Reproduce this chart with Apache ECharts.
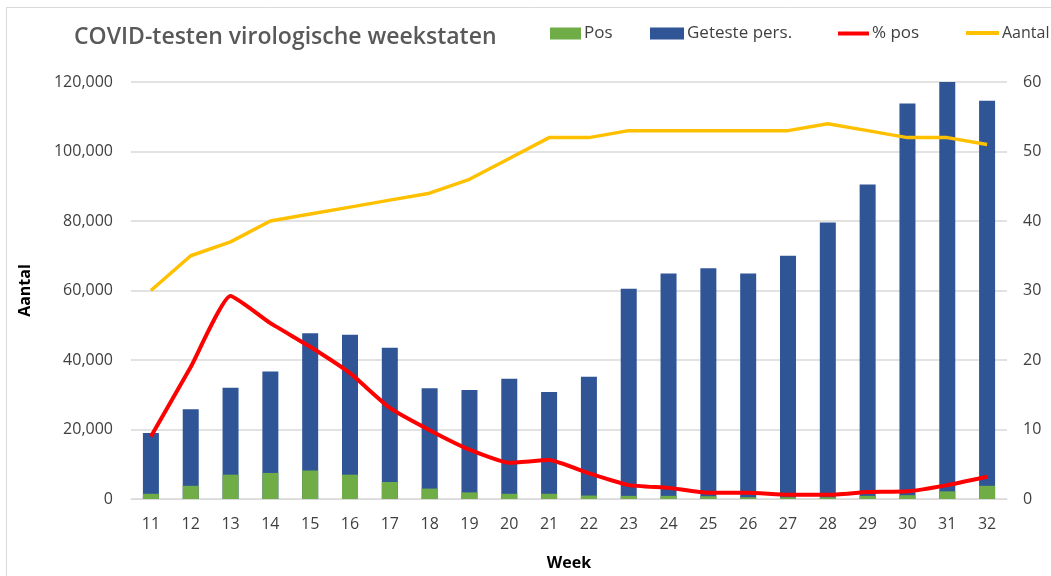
<!DOCTYPE html>
<html>
<head>
<meta charset="utf-8">
<script src="https://cdn.jsdelivr.net/npm/echarts@6/dist/echarts.min.js"></script>
<style>
  html, body { margin: 0; padding: 0; background: #fff; }
  #main { width: 1051px; height: 576px; }
</style>
</head>
<body>
<div id="main"></div>
<script>
// weeks on the x axis
var weeks = ["11","12","13","14","15","16","17","18","19","20","21","22","23","24","25","26","27","28","29","30","31","32"];

// tested persons per week (left axis)
var geteste = [19000,25800,32000,36700,47700,47300,43500,31900,31400,34600,30800,35200,60500,64900,66400,64900,70000,79600,90500,113800,120000,114600];
// positives per week (left axis)
var pos = [1500,3800,7000,7500,8200,7000,4900,3000,1900,1500,1500,1000,900,900,800,500,500,500,900,1100,2200,3800];
// % positive (right axis)
var pctPos = [9,19,29.2,25.3,21.9,18.1,13.1,9.9,7.1,5.2,5.6,3.7,2.0,1.6,0.9,0.9,0.6,0.6,1.0,1.1,2.0,3.2];
// aantal (right axis)
var aantal = [30,35,37,40,41,42,43,44,46,49,52,52,53,53,53,53,53,54,53,52,52,51];

var FONT = "'Open Sans', 'Noto Sans', sans-serif";

var myChart = echarts.init(document.getElementById("main"));

function legendItem(name, left, icon, w, h, size) {
    return {
        data: [{ name: name, icon: icon }],
        left: left,
        top: 20,
        itemWidth: w,
        itemHeight: h,
        itemGap: 0,
        selectedMode: false,
        textStyle: { fontFamily: FONT, fontSize: size, color: "#404040", padding: [0, 0, 0, -2] }
    };
}

var option = {
    animation: false,
    backgroundColor: "#ffffff",
    title: {
        text: "COVID-testen virologische weekstaten",
        left: 69,
        top: 21,
        textStyle: { fontFamily: FONT, fontSize: 23, fontWeight: 600, color: "#595959" }
    },
    legend: [
        legendItem("Pos", 545, "rect", 31, 12, 17),
        legendItem("Geteste pers.", 645, "rect", 34, 12, 17),
        legendItem("% pos", 833, "rect", 31, 4, 17),
        legendItem("Aantal", 961, "rect", 33, 4, 16)
    ],
    graphic: [
        { type: "line", shape: { x1: 6.5, y1: 7, x2: 6.5, y2: 576 }, style: { stroke: "#d9d9d9", lineWidth: 1 } },
        { type: "line", shape: { x1: 6, y1: 7.5, x2: 1051, y2: 7.5 }, style: { stroke: "#d9d9d9", lineWidth: 1 } }
    ],
    grid: { left: 131, right: 44, top: 82, bottom: 77 },
    xAxis: {
        type: "category",
        data: weeks,
        name: "Week",
        nameLocation: "middle",
        nameGap: 56,
        nameTextStyle: { fontFamily: FONT, fontSize: 16, fontWeight: "bold", color: "#000" },
        axisLine: { lineStyle: { color: "#d9d9d9" } },
        axisTick: { show: false },
        axisLabel: { fontFamily: FONT, fontSize: 16, color: "#404040", margin: 17 }
    },
    yAxis: [
        {
            type: "value",
            min: 0,
            max: 120000,
            interval: 20000,
            name: "Aantal",
            nameLocation: "middle",
            nameGap: 98,
            nameRotate: 90,
            nameTextStyle: { fontFamily: FONT, fontSize: 16, fontWeight: "bold", color: "#000" },
            axisLine: { show: false },
            axisTick: { show: false },
            splitLine: { lineStyle: { color: "#d9d9d9", width: 1.5 } },
            axisLabel: {
                fontFamily: FONT, fontSize: 16, color: "#404040", margin: 18,
                formatter: function (v) { return v.toLocaleString("en-US"); }
            }
        },
        {
            type: "value",
            min: 0,
            max: 60,
            interval: 10,
            position: "right",
            axisLine: { show: false },
            axisTick: { show: false },
            splitLine: { show: false },
            axisLabel: { fontFamily: FONT, fontSize: 16, color: "#404040", margin: 16 }
        }
    ],
    series: [
        {
            name: "Geteste pers.",
            type: "bar",
            data: geteste,
            barWidth: 16,
            barGap: "-100%",
            itemStyle: { color: "#2f5597" }
        },
        {
            name: "Pos",
            type: "bar",
            data: pos,
            barWidth: 16,
            barGap: "-100%",
            itemStyle: { color: "#70ad47" }
        },
        {
            name: "% pos",
            type: "line",
            yAxisIndex: 1,
            data: pctPos,
            showSymbol: false,
            smooth: 0.15,
            itemStyle: { color: "#ff0000" },
            lineStyle: { color: "#ff0000", width: 4 }
        },
        {
            name: "Aantal",
            type: "line",
            yAxisIndex: 1,
            data: aantal,
            showSymbol: false,
            itemStyle: { color: "#ffc000" },
            lineStyle: { color: "#ffc000", width: 3.5 }
        }
    ]
};

myChart.setOption(option);
</script>
</body>
</html>
